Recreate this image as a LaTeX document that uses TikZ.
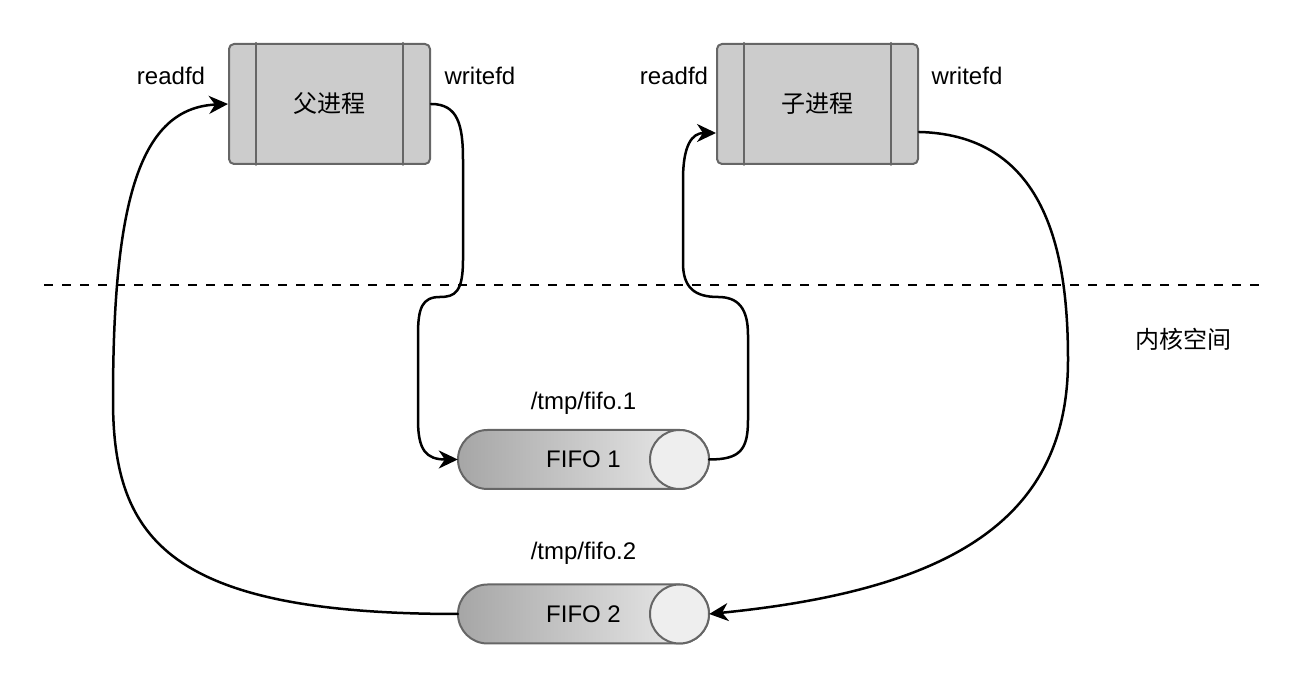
\documentclass[tikz,border=0pt]{standalone}
\usepackage{fontspec}
\setmainfont{Liberation Sans}
\newfontfamily\cjk{Noto Sans CJK SC}
\usetikzlibrary{arrows.meta}
\definecolor{procfill}{HTML}{CCCCCC}
\definecolor{edgegray}{HTML}{666666}
\definecolor{fifodark}{HTML}{A6A6A6}
\definecolor{fifolight}{HTML}{EEEEEE}
\tikzset{
  proc/.style={rectangle, rounded corners=5pt, fill=procfill, draw=edgegray,
    line width=2pt, minimum width=201pt, minimum height=120pt, inner sep=0pt,
    font=\fontsize{24}{28}\selectfont\cjk},
  fifo/.style={rectangle, minimum width=251pt, minimum height=59pt, inner sep=0pt,
    font=\fontsize{24}{28}\selectfont},
  fifobody/.style={draw=edgegray, line width=2pt, left color=fifodark, right color=fifolight},
  fifocap/.style={draw=edgegray, line width=2pt, fill=fifolight},
  lbl/.style={inner sep=0pt, font=\fontsize{24}{28}\selectfont},
  link/.style={line width=2.5pt, -{Stealth[length=19pt,width=18pt,inset=6pt]}},
}
\begin{document}
\begin{tikzpicture}[line cap=round,line join=round,x=1pt,y=1pt]
  \useasboundingbox (0,0) rectangle (1294,700);

  \node[proc] (parent) at (329.5,596) {父进程};
  \node[proc] (child) at (817.5,596) {子进程};
  \foreach \p in {parent,child}{
    \draw[edgegray, line width=2pt] ([xshift=28pt]\p.north west) -- ([xshift=28pt]\p.south west);
    \draw[edgegray, line width=2pt] ([xshift=-28pt]\p.north east) -- ([xshift=-28pt]\p.south east);
  }

  \node[lbl] (prd) at (171,624) {readfd};
  \node[lbl] (pwr) at (480,624) {writefd};
  \node[lbl] (crd) at (674,624) {readfd};
  \node[lbl] (cwr) at (967,624) {writefd};

  \draw[line width=2.5pt, dash pattern=on 9pt off 9pt, line cap=butt] (44,415) -- (1260,415);
  \node[lbl, font=\fontsize{24}{28}\selectfont\cjk] (kernel) at (1183,361) {内核空间};

  \coordinate (c1) at (583.5,240.5);
  \coordinate (c2) at (583.5,86);
  \foreach \c in {c1,c2}{
    \shadedraw[fifobody] ([shift={(96,29.5)}]\c) -- ([shift={(-96,29.5)}]\c)
      arc[start angle=90, end angle=270, radius=29.5]
      -- ([shift={(96,-29.5)}]\c) arc[start angle=-90, end angle=90, radius=29.5] -- cycle;
    \filldraw[fifocap] ([xshift=96pt]\c) circle[radius=29.5];
  }
  \node[fifo] (f1) at (c1) {FIFO 1};
  \node[fifo] (f2) at (c2) {FIFO 2};
  \node[lbl] (n1) at (583.5,297) {/tmp/fifo.1};
  \node[lbl] (n2) at (583.5,147) {/tmp/fifo.2};

  \draw[link] (parent.east) .. controls (458,596) and (463,575) .. (463,540)
    -- (463,440) .. controls (463,408) and (455,403) .. (440,403)
    .. controls (422,403) and (418,392) .. (418,365)
    -- (418,280) .. controls (418,250) and (426,240.5) .. (f1.west);
  \draw[link] (f1.east) .. controls (740,240.5) and (748,250) .. (748,280)
    -- (748,365) .. controls (748,392) and (738,403) .. (718,403)
    .. controls (695,403) and (683,412) .. (683,437)
    -- (683,520) .. controls (683,555) and (692,567) .. ([yshift=-29pt]child.west);
  \draw[link] ([yshift=-28pt]child.east) .. controls (1050,565) and (1068,440) .. (1068,340)
    .. controls (1068,180) and (950,110) .. (f2.east);
  \draw[link] (f2.west) .. controls (170,86) and (113,160) .. (113,300)
    .. controls (113,500) and (140,592) .. (parent.west);
\end{tikzpicture}
\end{document}
